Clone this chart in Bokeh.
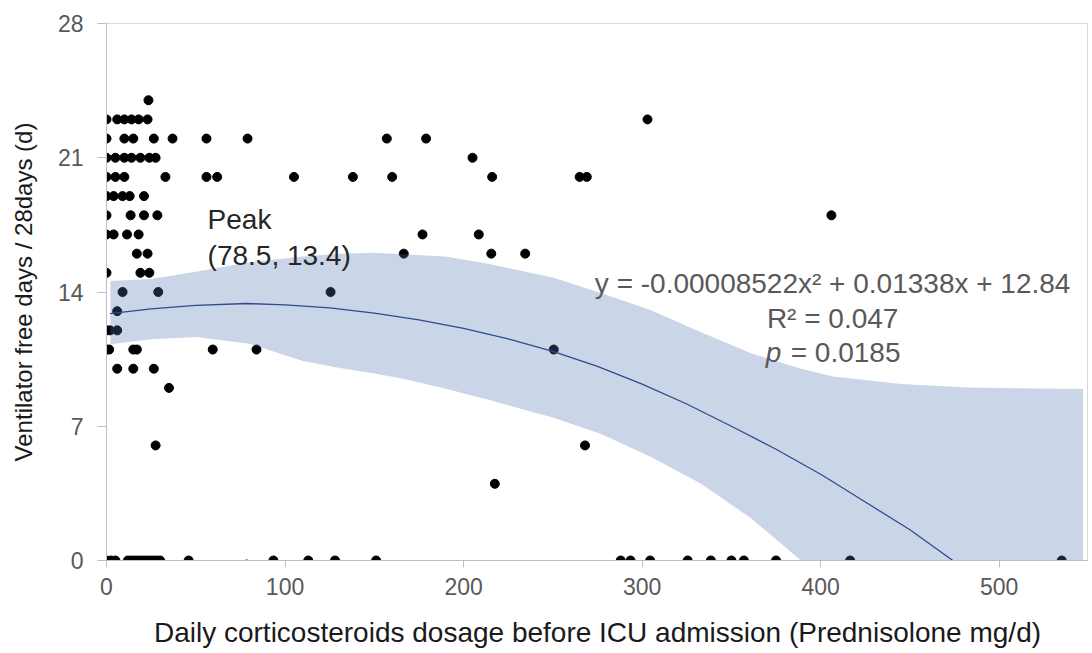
from bokeh.plotting import figure
from bokeh.models import Range1d, FixedTicker, Label
from bokeh.embed import file_html
from bokeh.resources import INLINE

# ---- scatter data (dose mg/d, ventilator free days) ----
dose = [
    23.5,                                                   # 24
    0, 6, 10, 14, 18, 23, 303,                              # 23
    0, 10, 15, 26.5, 37, 56, 79, 157, 179,                  # 22
    0, 5, 10, 14, 19, 24, 27.5, 205,                        # 21
    0, 5, 10, 33, 56, 62, 105, 138, 160, 216, 265, 269,     # 20
    0, 4, 9, 13, 21,                                        # 19
    0, 13.5, 21, 28.5, 406,                                 # 18
    0, 4, 11.5, 18, 177, 208.5,                             # 17
    17, 23, 166.5, 215.5, 234.5,                            # 16
    0, 19, 24,                                              # 15
    9, 29, 125.5,                                           # 14
    6,                                                      # 13
    0, 2, 6,                                                # 12
    0, 1.5, 15, 17, 59.5, 84, 250.5,                        # 11
    6, 15, 26.5,                                            # 10
    35,                                                     # 9
    27.5, 268,                                              # 6
    217.5,                                                  # 4
    0, 2.5, 5, 12, 14, 16, 18, 20, 22, 24, 26, 28, 30, 46,  # 0
    93.5, 113, 128, 151, 288, 293.5, 304.5, 325.5, 338.5,
    350, 357, 375, 416.5, 535,
]
vfd = (
    [24]
    + [23] * 7
    + [22] * 9
    + [21] * 8
    + [20] * 12
    + [19] * 5
    + [18] * 5
    + [17] * 6
    + [16] * 5
    + [15] * 3
    + [14] * 3
    + [13] * 1
    + [12] * 3
    + [11] * 7
    + [10] * 3
    + [9] * 1
    + [6] * 2
    + [4] * 1
    + [0] * 28
)

# ---- peak marker on the axis ----
peak_x = [78.5]
peak_y = [0]

# ---- fitted curve ----
fit_x = [2, 25, 50, 78.5, 100, 125, 150, 175, 200, 225, 250, 275, 300, 325,
         350, 375, 400, 425, 450, 474]
fit_y = [12.87, 13.12, 13.30, 13.40, 13.33, 13.17, 12.90, 12.55, 12.10, 11.55,
         10.90, 10.12, 9.20, 8.16, 7.00, 5.80, 4.50, 3.05, 1.60, 0.0]

# ---- confidence band ----
band_x = [2.2, 25, 50, 80, 110, 130, 150, 165, 190, 215, 240, 250, 277, 305,
          333, 361, 389, 407, 445, 482, 547]
band_upper = [14.58, 14.68, 15.05, 15.55, 15.85, 16.0, 16.05, 15.97, 15.85, 15.45,
              14.95, 14.75, 13.95, 13.05, 11.9, 10.8, 10.0, 9.6, 9.2, 9.02, 8.94]
band_lower = [11.28, 11.54, 11.66, 11.3, 10.4, 10.05, 9.75, 9.5, 8.95, 8.35,
              7.7, 7.46, 6.6, 5.4, 4.0, 2.2, 0.0, 0.0, 0.0, 0.0, 0.0]

x_ticks = [0, 100, 200, 300, 400, 500]
y_ticks = [0, 7, 14, 21, 28]

FONT = "Liberation Sans"

p = figure(width=1088, height=650, output_backend="svg", toolbar_location=None,
           x_range=Range1d(0, 550), y_range=Range1d(0, 28),
           min_border_left=106, min_border_right=0, min_border_top=23,
           min_border_bottom=90)
p.xgrid.visible = False
p.ygrid.visible = False
p.outline_line_color = "#D9D9D9"
p.background_fill_color = "white"

p.scatter(dose, vfd, size=9, color="black", line_color="black")
p.scatter(peak_x, peak_y, size=2, color="#E04040")
p.varea(x=band_x, y1=band_lower, y2=band_upper, fill_color="#5273B2", fill_alpha=0.30)
p.line(fit_x, fit_y, line_color="#2F4B8F", line_width=1.3)

for ax in (p.xaxis, p.yaxis):
    ax.axis_line_color = "#BFBFBF"
    ax.major_tick_line_color = "#BFBFBF"
    ax.minor_tick_line_color = None
    ax.major_tick_in = 0
    ax.major_label_text_color = "#595959"
    ax.major_label_text_font = FONT
    ax.major_label_text_font_size = "23px"
    ax.axis_label_text_font = FONT
    ax.axis_label_text_font_style = "normal"
    ax.axis_label_text_color = "#1a1a1a"

p.xaxis.axis_label_text_font_size = "28px"
p.yaxis.axis_label_text_font_size = "24px"
p.xaxis.ticker = FixedTicker(ticks=x_ticks)
p.yaxis.ticker = FixedTicker(ticks=y_ticks)
p.xaxis.major_tick_out = 7
p.yaxis.major_tick_out = 9
p.xaxis.major_label_standoff = 10
p.yaxis.major_label_standoff = 14
p.xaxis.axis_label = "Daily corticosteroids dosage before ICU admission (Prednisolone mg/d)"
p.yaxis.axis_label = "Ventilator free days / 28days (d)"
p.xaxis.axis_label_standoff = 19
p.yaxis.axis_label_standoff = 18

ann_color = "#262626"
eq_color = "#595959"
p.add_layout(Label(x=56.6, y=17.78, text="Peak", text_font=FONT, text_font_size="28px",
                   text_color=ann_color, text_baseline="alphabetic"))
p.add_layout(Label(x=56.6, y=15.9, text="(78.5, 13.4)", text_font=FONT, text_font_size="28px",
                   text_color=ann_color, text_baseline="alphabetic"))
p.add_layout(Label(x=406.7, y=14.44, text="y = -0.00008522x\u00b2 + 0.01338x + 12.84",
                   text_font=FONT, text_font_size="28px", text_color=eq_color,
                   text_align="center", text_baseline="alphabetic"))
p.add_layout(Label(x=406.7, y=12.62, text="R\u00b2 = 0.047",
                   text_font=FONT, text_font_size="28px", text_color=eq_color,
                   text_align="center", text_baseline="alphabetic"))
p.add_layout(Label(x=369.2, y=10.84, text="p", text_font=FONT, text_font_size="28px",
                   text_font_style="italic", text_color=eq_color, text_baseline="alphabetic"))
p.add_layout(Label(x=383.2, y=10.84, text="= 0.0185", text_font=FONT, text_font_size="28px",
                   text_color=eq_color, text_baseline="alphabetic"))

open("out.html", "w").write(file_html(p, INLINE))
